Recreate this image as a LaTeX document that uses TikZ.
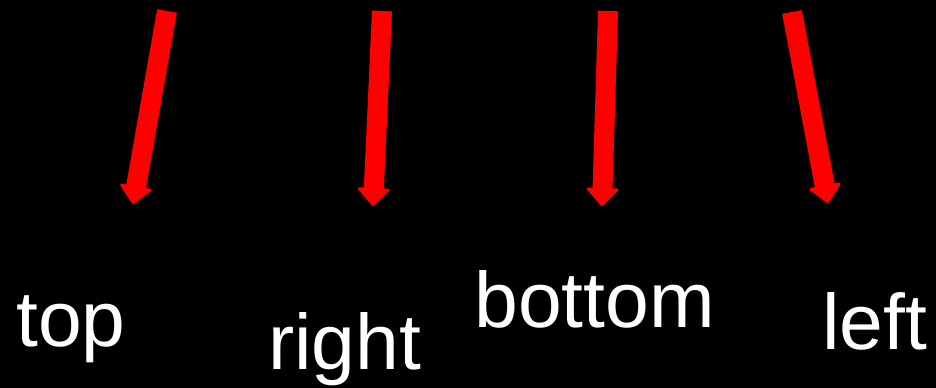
\documentclass[tikz,border=0pt]{standalone}
\usepackage{fontspec}
\setmainfont{Liberation Sans}
\usetikzlibrary{arrows.meta}

\begin{document}
\begin{tikzpicture}[x=0.75pt,y=-0.75pt,
    pointer/.style={draw=red,line width=15pt,line join=round,
      -{Triangle[width=26pt,length=14pt,line width=2pt,round]}},
    word/.style={text=white,font=\fontsize{59}{60}\selectfont,inner sep=0pt,anchor=base west}]
  \fill[black] (0,0) rectangle (936,388);
  % arrow ends
  \coordinate (t0) at (167,11);  \coordinate (t1) at (133,204);
  \coordinate (r0) at (382,11);  \coordinate (r1) at (373,206);
  \coordinate (b0) at (608,11);  \coordinate (b1) at (602,206);
  \coordinate (l0) at (792,12);  \coordinate (l1) at (828,203);
  \draw[pointer] (t0) -- (t1);
  \draw[pointer] (r0) -- (r1);
  \draw[pointer] (b0) -- (b1);
  \draw[pointer] (l0) -- (l1);
  % labels
  \node[word] (top) at (16,347) {top};
  \node[word] (right) at (268,370) {right};
  \node[word] (bottom) at (474,328) {bottom};
  \node[word] (left) at (822,350) {left};
\end{tikzpicture}
\end{document}
